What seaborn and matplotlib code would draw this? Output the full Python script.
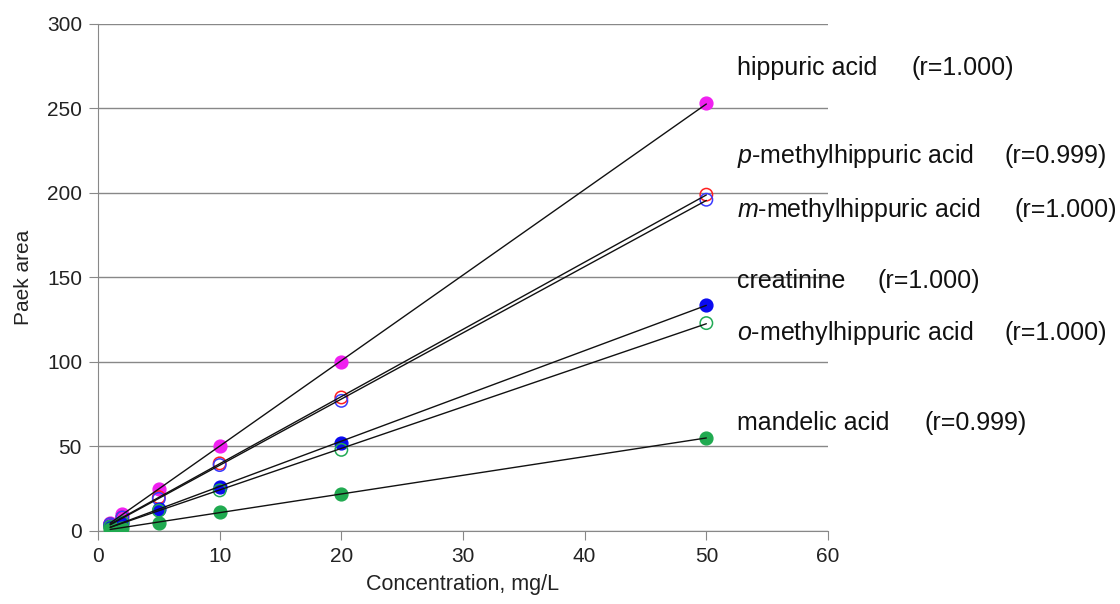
import matplotlib
matplotlib.use('Agg')
import matplotlib.pyplot as plt
import pandas as pd
import seaborn as sns

# Calibration data
conc = [1, 2, 5, 10, 20, 50]
hippuric = [5, 10, 25, 50, 100, 253]
p_methyl = [4, 8, 20, 40, 79, 199]
m_methyl = [4, 8, 19, 39, 77, 196]
creatinine = [3, 5, 13, 26, 52, 134]
o_methyl = [2.5, 5, 12, 24, 48, 123]
mandelic = [1, 2, 5, 11, 22, 55]

names = ['hippuric acid', '$\\it{p}$-methylhippuric acid', '$\\it{m}$-methylhippuric acid',
         'creatinine', '$\\it{o}$-methylhippuric acid', 'mandelic acid']
r_labels = ['(r=1.000)', '(r=0.999)', '(r=1.000)', '(r=1.000)', '(r=1.000)', '(r=0.999)']
series = [hippuric, p_methyl, m_methyl, creatinine, o_methyl, mandelic]

sns.set_style('white')
plt.rcParams['font.family'] = ['Liberation Sans', 'DejaVu Sans']
plt.rcParams['mathtext.fontset'] = 'custom'
plt.rcParams['mathtext.it'] = 'Liberation Sans:italic'
plt.rcParams['mathtext.rm'] = 'Liberation Sans'

fig = plt.figure(figsize=(11.2, 6.04), dpi=100)
ax = fig.add_axes([0.0875, 0.1209, 0.6518, 0.8394])

# marker styles: (colour, filled)
styles = [('#f020f0', True), ('#ff2020', False), ('#3a3aff', False),
          ('#0a0af0', True), ('#22aa55', False), ('#20aa50', True)]

for vals, (col, filled) in zip(series, styles):
    df = pd.DataFrame({'x': conc, 'y': vals})
    if filled:
        ax.scatter(df['x'], df['y'], s=85, color=col, edgecolors=col, zorder=3)
    else:
        ax.scatter(df['x'], df['y'], s=80, facecolors='none', edgecolors=col, linewidths=1.1, zorder=3)
    sns.regplot(data=df, x='x', y='y', ax=ax, scatter=False, ci=None, truncate=True,
                color='#111111', line_kws={'lw': 1.0, 'zorder': 4})

ax.set_xlim(0, 60)
ax.set_ylim(0, 300)
ax.set_xticks(range(0, 61, 10))
ax.set_yticks(range(0, 301, 50))
ax.yaxis.grid(True, color='#888888', lw=1)
ax.set_axisbelow(True)
for side in ['top', 'right']:
    ax.spines[side].set_visible(False)
for side in ['left', 'bottom']:
    ax.spines[side].set_color('#888888')
ax.tick_params(axis='both', direction='out', length=6.5, color='#888888', labelsize=15,
               labelcolor='#222222', bottom=True, left=True, pad=5)
ax.set_xlabel('Concentration, mg/L', fontsize=15.5, labelpad=6, color='#222222')
ax.set_ylabel('Paek area', fontsize=15, labelpad=10, color='#222222')

# series labels on the right
label_y = [274, 222, 190, 148, 117, 64]
r_x = [66.9, 74.5, 75.3, 64.1, 74.5, 67.9]
for name, r, y, rx in zip(names, r_labels, label_y, r_x):
    ax.text(52.5, y, name, fontsize=18, va='center', ha='left', clip_on=False, color='#111111')
    ax.text(rx, y, r, fontsize=18, va='center', ha='left', clip_on=False, color='#111111')

fig.savefig('out.png', dpi=100)
